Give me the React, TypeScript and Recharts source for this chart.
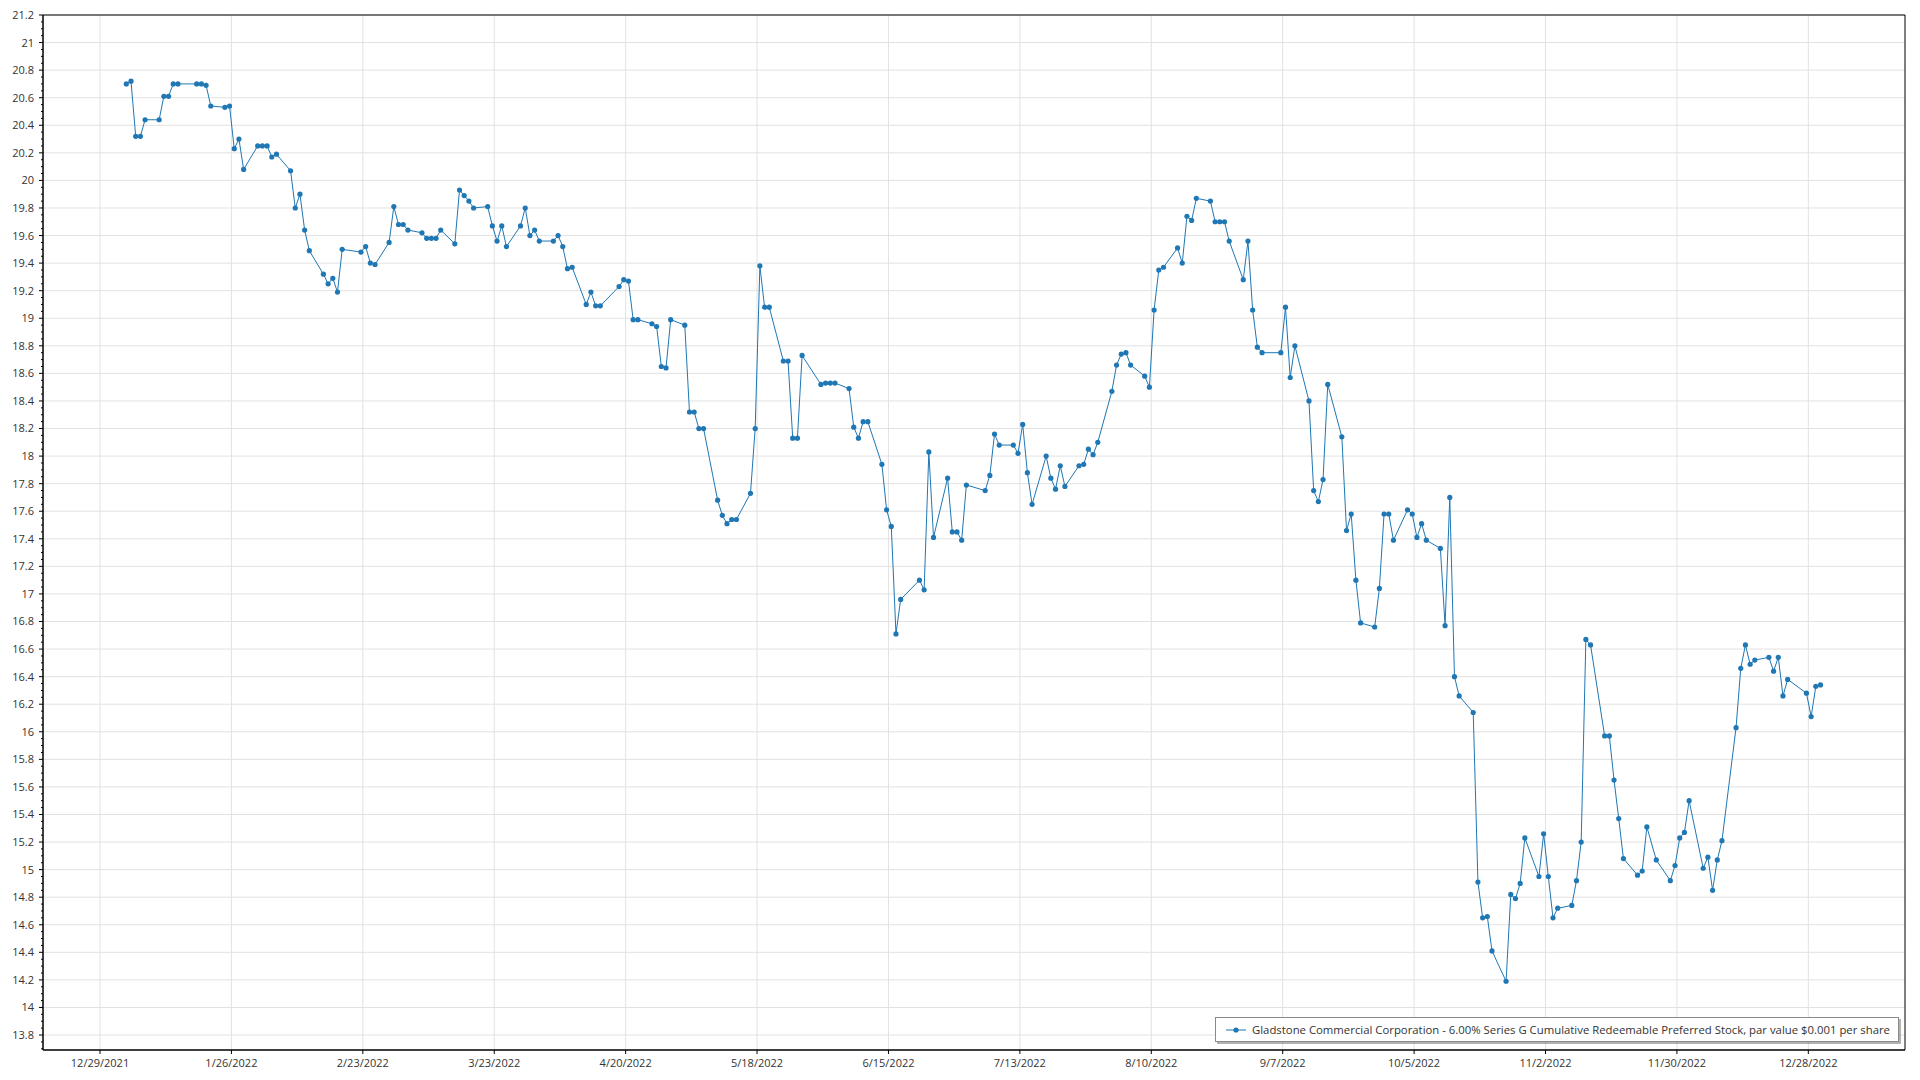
import { LineChart, Line, XAxis, YAxis, CartesianGrid, ReferenceArea } from "recharts";

// 2022 closing prices, one pair of arrays per month (trading day, close)
const janDays = [3, 4, 5, 6, 7, 10, 11, 12, 13, 14, 18, 19, 20, 21, 24, 25, 26, 27, 28, 31];
const janClose = [20.7, 20.72, 20.32, 20.32, 20.44, 20.44, 20.61, 20.61, 20.7, 20.7, 20.7, 20.7, 20.69, 20.54, 20.53, 20.54, 20.23, 20.3, 20.08, 20.25];
const febDays = [1, 2, 3, 4, 7, 8, 9, 10, 11, 14, 15, 16, 17, 18, 22, 23, 24, 25, 28];
const febClose = [20.25, 20.25, 20.17, 20.19, 20.07, 19.8, 19.9, 19.64, 19.49, 19.32, 19.25, 19.29, 19.19, 19.5, 19.48, 19.52, 19.4, 19.39, 19.55];
const marDays = [1, 2, 3, 4, 7, 8, 9, 10, 11, 14, 15, 16, 17, 18, 21, 22, 23, 24, 25, 28, 29, 30, 31];
const marClose = [19.81, 19.68, 19.68, 19.64, 19.62, 19.58, 19.58, 19.58, 19.64, 19.54, 19.93, 19.89, 19.85, 19.8, 19.81, 19.67, 19.56, 19.67, 19.52, 19.67, 19.8, 19.6, 19.64];
const aprDays = [1, 4, 5, 6, 7, 8, 11, 12, 13, 14, 18, 19, 20, 21, 22, 25, 26, 27, 28, 29];
const aprClose = [19.56, 19.56, 19.6, 19.52, 19.36, 19.37, 19.1, 19.19, 19.09, 19.09, 19.23, 19.28, 19.27, 18.99, 18.99, 18.96, 18.94, 18.65, 18.64, 18.99];
const mayDays = [2, 3, 4, 5, 6, 9, 10, 11, 12, 13, 16, 17, 18, 19, 20, 23, 24, 25, 26, 27, 31];
const mayClose = [18.95, 18.32, 18.32, 18.2, 18.2, 17.68, 17.57, 17.51, 17.54, 17.54, 17.73, 18.2, 19.38, 19.08, 19.08, 18.69, 18.69, 18.13, 18.13, 18.73, 18.52];
const junDays = [1, 2, 3, 6, 7, 8, 9, 10, 13, 14, 15, 16, 17, 21, 22, 23, 24, 27, 28, 29, 30];
const junClose = [18.53, 18.53, 18.53, 18.49, 18.21, 18.13, 18.25, 18.25, 17.94, 17.61, 17.49, 16.71, 16.96, 17.1, 17.03, 18.03, 17.41, 17.84, 17.45, 17.45, 17.39];
const julDays = [1, 5, 6, 7, 8, 11, 12, 13, 14, 15, 18, 19, 20, 21, 22, 25, 26, 27, 28, 29];
const julClose = [17.79, 17.75, 17.86, 18.16, 18.08, 18.08, 18.02, 18.23, 17.88, 17.65, 18.0, 17.84, 17.76, 17.93, 17.78, 17.93, 17.94, 18.05, 18.01, 18.1];
const augDays = [1, 2, 3, 4, 5, 8, 9, 10, 11, 12, 15, 16, 17, 18, 19, 22, 23, 24, 25, 26, 29, 30, 31];
const augClose = [18.47, 18.66, 18.74, 18.75, 18.66, 18.58, 18.5, 19.06, 19.35, 19.37, 19.51, 19.4, 19.74, 19.71, 19.87, 19.85, 19.7, 19.7, 19.7, 19.56, 19.28, 19.56, 19.06];
const sepDays = [1, 2, 6, 7, 8, 9, 12, 13, 14, 15, 16, 19, 20, 21, 22, 23, 26, 27, 28, 29, 30];
const sepClose = [18.79, 18.75, 18.75, 19.08, 18.57, 18.8, 18.4, 17.75, 17.67, 17.83, 18.52, 18.14, 17.46, 17.58, 17.1, 16.79, 16.76, 17.04, 17.58, 17.58, 17.39];
const octDays = [3, 4, 5, 6, 7, 10, 11, 12, 13, 14, 17, 18, 19, 20, 21, 24, 25, 26, 27, 28, 31];
const octClose = [17.61, 17.58, 17.41, 17.51, 17.39, 17.33, 16.77, 17.7, 16.4, 16.26, 16.14, 14.91, 14.65, 14.66, 14.41, 14.19, 14.82, 14.79, 14.9, 15.23, 14.95];
const novDays = [1, 2, 3, 4, 7, 8, 9, 10, 11, 14, 15, 16, 17, 18, 21, 22, 23, 25, 28, 29, 30];
const novClose = [15.26, 14.95, 14.65, 14.72, 14.74, 14.92, 15.2, 16.67, 16.63, 15.97, 15.97, 15.65, 15.37, 15.08, 14.96, 14.99, 15.31, 15.07, 14.92, 15.03, 15.23];
const decDays = [1, 2, 5, 6, 7, 8, 9, 12, 13, 14, 15, 16, 19, 20, 21, 22, 23, 27, 28, 29, 30];
const decClose = [15.27, 15.5, 15.01, 15.09, 14.85, 15.07, 15.21, 16.03, 16.46, 16.63, 16.49, 16.52, 16.54, 16.44, 16.54, 16.26, 16.38, 16.28, 16.11, 16.33, 16.34];

const xTickLabels = [
  "12/29/2021", "1/26/2022", "2/23/2022", "3/23/2022", "4/20/2022", "5/18/2022", "6/15/2022",
  "7/13/2022", "8/10/2022", "9/7/2022", "10/5/2022", "11/2/2022", "11/30/2022", "12/28/2022",
];

const SERIES_NAME =
  "Gladstone Commercial Corporation - 6.00% Series G Cumulative Redeemable Preferred Stock, par value $0.001 per share";

const DAY = 86400000;
const BLUE = "#1f77b4";
const FONT = "'Open Sans', sans-serif";
const TICK_SIZE = 4;
const TICK_MARGIN = 5;

const monthDays = [janDays, febDays, marDays, aprDays, mayDays, junDays, julDays, augDays, sepDays, octDays, novDays, decDays];
const monthClose = [janClose, febClose, marClose, aprClose, mayClose, junClose, julClose, augClose, sepClose, octClose, novClose, decClose];

// quotes are stamped in the afternoon, like the source
const data = monthDays.flatMap((days, m) =>
  days.map((d, i) => ({ t: Date.UTC(2022, m, d, 14, 24), close: monthClose[m][i] }))
);

const parseDate = (s: string) => {
  const [mo, d, y] = s.split("/").map(Number);
  return Date.UTC(y, mo - 1, d);
};
const xTicks = xTickLabels.map(parseDate);
const fmtDate = (t: number) => {
  const d = new Date(t);
  return `${d.getUTCMonth() + 1}/${d.getUTCDate()}/${d.getUTCFullYear()}`;
};

const X_MIN = xTicks[0] - 12.15 * DAY;
const X_MAX = xTicks[0] + 384.6 * DAY;
const Y_MIN = 13.6914;
const Y_MAX = 21.2;

const yMajor: number[] = [];
for (let k = 69; k <= 106; k++) yMajor.push(+(k * 0.2).toFixed(1));
const yAll: number[] = [];
for (let k = 274; k <= 424; k++) yAll.push(+(k * 0.05).toFixed(2));

function YTick(props: any) {
  const { x, y, payload } = props;
  const v = payload.value as number;
  const axisX = x + TICK_SIZE + TICK_MARGIN;
  const major = Math.abs(v * 5 - Math.round(v * 5)) < 1e-6;
  return (
    <g>
      <line x1={axisX - (major ? TICK_SIZE : 2)} x2={axisX} y1={y} y2={y} stroke="#000" />
      {major && (
        <text x={x} y={y} dy="0.36em" textAnchor="end" fill="#333" fontSize={11} fontFamily={FONT}>
          {String(+v.toFixed(1))}
        </text>
      )}
    </g>
  );
}

export default function App() {
  return (
    <div style={{ position: "absolute", left: 0, top: 0, width: 1920, height: 1080, background: "#fff" }}>
      <LineChart width={1920} height={1080} data={data} margin={{ top: 15, right: 15, bottom: 8, left: 0 }}>
        <CartesianGrid stroke="#e2e2e2" horizontalValues={yMajor} verticalValues={xTicks} />
        <ReferenceArea x1={X_MIN} x2={X_MAX} y1={Y_MIN} y2={Y_MAX} fill="none" stroke="#000" strokeOpacity={1} />
        <XAxis
          dataKey="t"
          type="number"
          scale="time"
          domain={[X_MIN, X_MAX]}
          allowDataOverflow
          ticks={xTicks}
          interval={0}
          tickFormatter={fmtDate}
          height={22}
          tickSize={TICK_SIZE}
          tickMargin={TICK_MARGIN}
          axisLine={{ stroke: "#000" }}
          tickLine={{ stroke: "#000" }}
          tick={{ fill: "#333", fontSize: 11, fontFamily: FONT }}
        />
        <YAxis
          type="number"
          domain={[Y_MIN, Y_MAX]}
          allowDataOverflow
          ticks={yAll}
          interval={0}
          width={43}
          tickSize={TICK_SIZE}
          tickMargin={TICK_MARGIN}
          axisLine={{ stroke: "#000" }}
          tickLine={false}
          tick={<YTick />}
        />
        <Line
          type="linear"
          dataKey="close"
          name={SERIES_NAME}
          stroke={BLUE}
          strokeWidth={1}
          dot={{ r: 2.6, fill: BLUE, stroke: BLUE, strokeWidth: 0 }}
          activeDot={false}
          isAnimationActive={false}
        />
      </LineChart>
      <div
        style={{
          position: "absolute",
          left: 1215,
          top: 1017,
          width: 682,
          height: 23,
          border: "1px solid #8a8a8a",
          boxShadow: "2px 2px 0 rgba(0,0,0,0.3)",
          background: "#fff",
          display: "flex",
          alignItems: "center",
          fontFamily: FONT,
          fontSize: 11.35,
          color: "#333",
          whiteSpace: "nowrap",
          boxSizing: "content-box",
        }}
      >
        <svg width={36} height={23} style={{ flex: "none" }}>
          <line x1={10} x2={30} y1={12} y2={12} stroke={BLUE} strokeWidth={1} />
          <circle cx={20} cy={12} r={2.6} fill={BLUE} />
        </svg>
        <span>{SERIES_NAME}</span>
      </div>
    </div>
  );
}
